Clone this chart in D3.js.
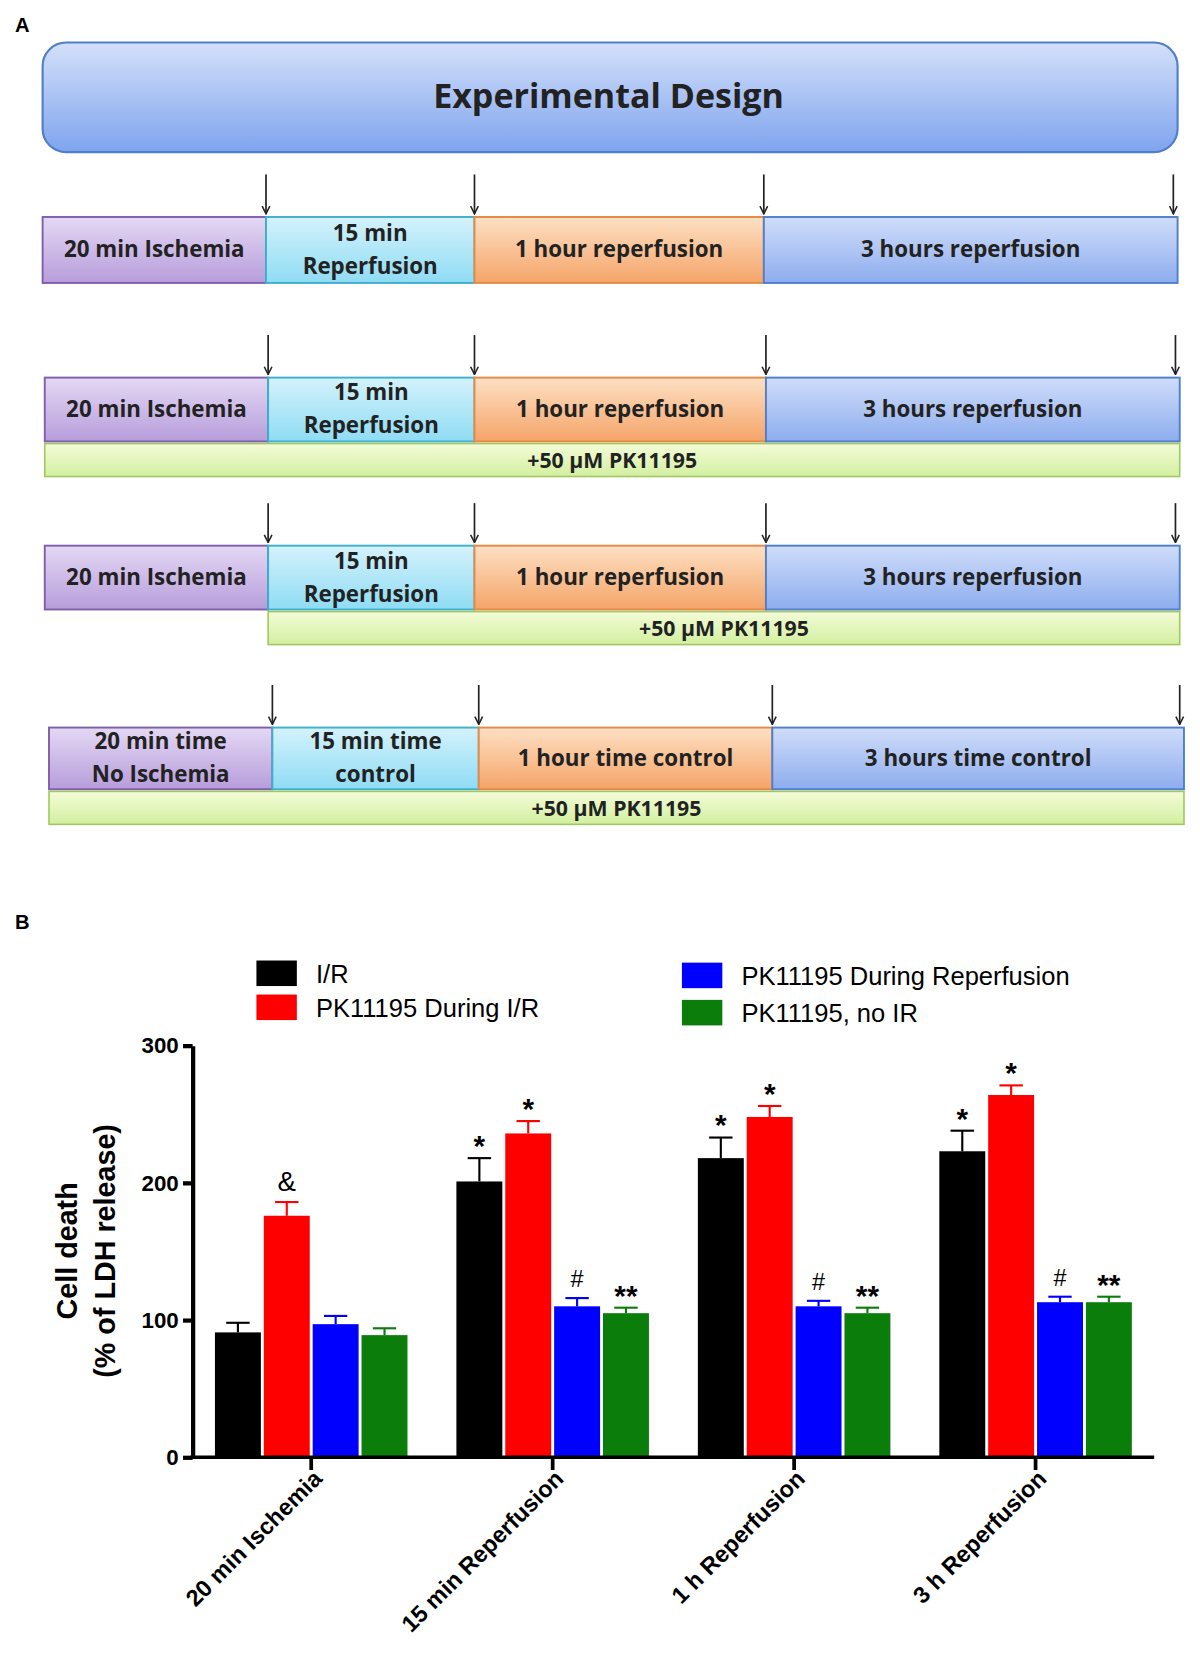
<!DOCTYPE html>
<html><head><meta charset="utf-8">
<script src="https://cdn.jsdelivr.net/npm/d3@7"></script>
<style>body{margin:0;background:#fff}</style></head>
<body><svg id="c" width="1200" height="1670" viewBox="0 0 1128 1570"></svg>
<script>
const categories = ["20  min Ischemia","15 min Reperfusion","1 h Reperfusion","3 h Reperfusion"];
const seriesNames = ["I/R","PK11195 During I/R","PK11195 During Reperfusion","PK11195, no IR"];
const seriesColors = ["#000000","#ff0000","#0000ff","#0a7d0a"];
const valIR   = [91, 201, 218, 223];
const valPKIR = [176, 236, 248, 264];
const valPKR  = [97, 110, 110, 113];
const valNoIR = [89, 105, 105, 113];
const errIR   = [7, 17, 15, 15];
const errPKIR = [10, 9, 8, 7];
const errPKR  = [6, 6, 4, 4];
const errNoIR = [5, 4, 4, 4];
const marks = [["","&","",""],["*","*","#","**"],["*","*","#","**"],["*","*","#","**"]];
const yTicks = [0,100,200,300];

const rows = [
 {y:204,h:62,xs:[40,250,446,718,1107],labels:[["20 min Ischemia"],["15 min","Reperfusion"],["1 hour reperfusion"],["3 hours reperfusion"]],drug:null},
 {y:355,h:60,xs:[42,252,446,720,1109],labels:[["20 min Ischemia"],["15 min","Reperfusion"],["1 hour reperfusion"],["3 hours reperfusion"]],drug:[42,1109]},
 {y:513,h:60,xs:[42,252,446,720,1109],labels:[["20 min Ischemia"],["15 min","Reperfusion"],["1 hour reperfusion"],["3 hours reperfusion"]],drug:[252,1109]},
 {y:684,h:58,xs:[46,256,450,726,1113],labels:[["20 min time","No Ischemia"],["15 min time","control"],["1 hour time control"],["3 hours time control"]],drug:[46,1113]}
];

const svg = d3.select("#c");
const defs = svg.append("defs");
function grad(id,a,b){const g=defs.append("linearGradient").attr("id",id).attr("x1",0).attr("y1",0).attr("x2",0).attr("y2",1);
 g.append("stop").attr("offset","0%").attr("stop-color",a);g.append("stop").attr("offset","100%").attr("stop-color",b);}
grad("gh","#d4e0fa","#7fa4ee");grad("gp","#e4d8f4","#b79ddb");grad("gc","#d4f2fc","#8fdcf4");
grad("go","#fde0c4","#f5a468");grad("gb","#d0ddfa","#8dadee");grad("gg","#f4fcd8","#d2efa0");
const segFill=["url(#gp)","url(#gc)","url(#go)","url(#gb)"], segStroke=["#7f5fa8","#3fb0cc","#e38a48","#4f7ecb"];
defs.append("marker").attr("id","ar").attr("viewBox","0 0 10 10").attr("refX",9).attr("refY",5).attr("markerWidth",9).attr("markerHeight",9).attr("markerUnits","userSpaceOnUse").attr("orient","auto")
 .append("path").attr("d","M1,1 L9,5 L1,9").attr("fill","none").attr("stroke","#222").attr("stroke-width",1.6);

const dfont="'Open Sans', 'DejaVu Sans', sans-serif";
svg.append("text").attr("x",14).attr("y",30).text("A").attr("font-family","Liberation Sans, Arial").attr("font-weight","bold").attr("font-size",19);
svg.append("text").attr("x",14).attr("y",873).text("B").attr("font-family","Liberation Sans, Arial").attr("font-weight","bold").attr("font-size",19);
svg.append("rect").attr("x",40).attr("y",40).attr("width",1067).attr("height",103).attr("rx",22).attr("fill","url(#gh)").attr("stroke","#4f7ecb").attr("stroke-width",2);
svg.append("text").attr("x",572).attr("y",102).attr("text-anchor","middle").text("Experimental Design").attr("font-family",dfont).attr("font-weight","bold").attr("font-size",32).attr("fill","#222");

rows.forEach(r=>{
 const g=svg.append("g");
 if(r.drug){g.append("rect").attr("x",r.drug[0]).attr("y",r.y+r.h+2).attr("width",r.drug[1]-r.drug[0]).attr("height",31).attr("fill","url(#gg)").attr("stroke","#a0c860").attr("stroke-width",1.5);
  g.append("text").attr("x",(r.drug[0]+r.drug[1])/2).attr("y",r.y+r.h+25).attr("text-anchor","middle").text("+50 μM PK11195").attr("font-family",dfont).attr("font-weight","bold").attr("font-size",20).attr("fill","#222");}
 for(let i=0;i<4;i++){
  g.append("rect").attr("x",r.xs[i]).attr("y",r.y).attr("width",r.xs[i+1]-r.xs[i]).attr("height",r.h).attr("fill",segFill[i]).attr("stroke",segStroke[i]).attr("stroke-width",1.8);
  const cx=(r.xs[i]+r.xs[i+1])/2, L=r.labels[i];
  L.forEach((t,j)=>g.append("text").attr("x",cx).attr("y",r.y+r.h/2+7+(L.length>1?(j-0.5)*31:0)).attr("text-anchor","middle").text(t)
   .attr("font-family",dfont).attr("font-weight","bold").attr("font-size",21).attr("fill","#222"));
 }
 for(let i=1;i<5;i++){const x=r.xs[i]-(i==4?4:0);
  g.append("line").attr("x1",x).attr("x2",x).attr("y1",r.y-40).attr("y2",r.y-3).attr("stroke","#222").attr("stroke-width",1.6).attr("marker-end","url(#ar)");}
});

// Chart
const afont="'Liberation Sans', Arial, sans-serif";
const x0=d3.scaleBand().domain(categories).range([202,1064]).paddingInner(0.2026).paddingOuter(0);
const x1=d3.scaleBand().domain(d3.range(4)).range([0,x0.bandwidth()]).paddingInner(0.06);
const y=d3.scaleLinear().domain([0,300]).range([1370,983]);
const vals=[valIR,valPKIR,valPKR,valNoIR], errs=[errIR,errPKIR,errPKR,errNoIR];
categories.forEach((c,ci)=>{
 for(let s=0;s<4;s++){
  const bx=x0(c)+x1(s), bw=x1.bandwidth(), v=vals[s][ci], e=errs[s][ci], cx=bx+bw/2;
  svg.append("line").attr("x1",cx).attr("x2",cx).attr("y1",y(v)).attr("y2",y(v+e)).attr("stroke",seriesColors[s]).attr("stroke-width",2);
  svg.append("line").attr("x1",cx-11).attr("x2",cx+11).attr("y1",y(v+e)).attr("y2",y(v+e)).attr("stroke",seriesColors[s]).attr("stroke-width",2);
  svg.append("rect").attr("x",bx).attr("y",y(v)).attr("width",bw).attr("height",y(0)-y(v)).attr("fill",seriesColors[s]);
  const m=marks[ci][s];
  if(m) svg.append("text").attr("x",cx).attr("y",y(v+e)-(m.includes("*")?2:10)).attr("text-anchor","middle").text(m)
   .attr("font-family",afont).attr("font-size",m=="&"?26:(m=="#"?22:28)).attr("font-weight",m.includes("*")?"bold":"normal");
 }
});
const ya=svg.append("g").attr("transform","translate(181,0)").call(d3.axisLeft(y).tickValues(yTicks).tickSize(9).tickSizeOuter(0));
ya.select(".domain").attr("stroke-width",4);ya.selectAll(".tick line").attr("stroke-width",4);
ya.selectAll("text").attr("font-family",afont).attr("font-weight","bold").attr("font-size",21).attr("dx",-1);
const xa=svg.append("g").attr("transform","translate(0,1370)").call(d3.axisBottom(x0).tickSize(12).tickSizeOuter(0));
xa.select(".domain").attr("d","M179,0H1085").attr("stroke-width",3.5);xa.selectAll(".tick line").attr("stroke-width",3.5);
xa.selectAll("text").attr("font-family",afont).attr("font-weight","bold").attr("font-size",22).attr("text-anchor","end")
 .attr("transform","translate(6,16) rotate(-45)").attr("dy","0.35em").attr("dx",0).attr("y",0);
svg.append("text").attr("transform","translate(72,1176) rotate(-90)").attr("text-anchor","middle").text("Cell death").attr("font-family",afont).attr("font-weight","bold").attr("font-size",27);
svg.append("text").attr("transform","translate(108,1176) rotate(-90)").attr("text-anchor","middle").text("(% of LDH release)").attr("font-family",afont).attr("font-weight","bold").attr("font-size",27);

const leg=[[241,903],[241,935],[641,905],[641,940]];
seriesNames.forEach((n,i)=>{
 svg.append("rect").attr("x",leg[i][0]).attr("y",leg[i][1]).attr("width",38).attr("height",24).attr("fill",seriesColors[i]);
 svg.append("text").attr("x",leg[i][0]+56).attr("y",leg[i][1]+21).text(n).attr("font-family",afont).attr("font-size",24);
});
</script></body></html>
